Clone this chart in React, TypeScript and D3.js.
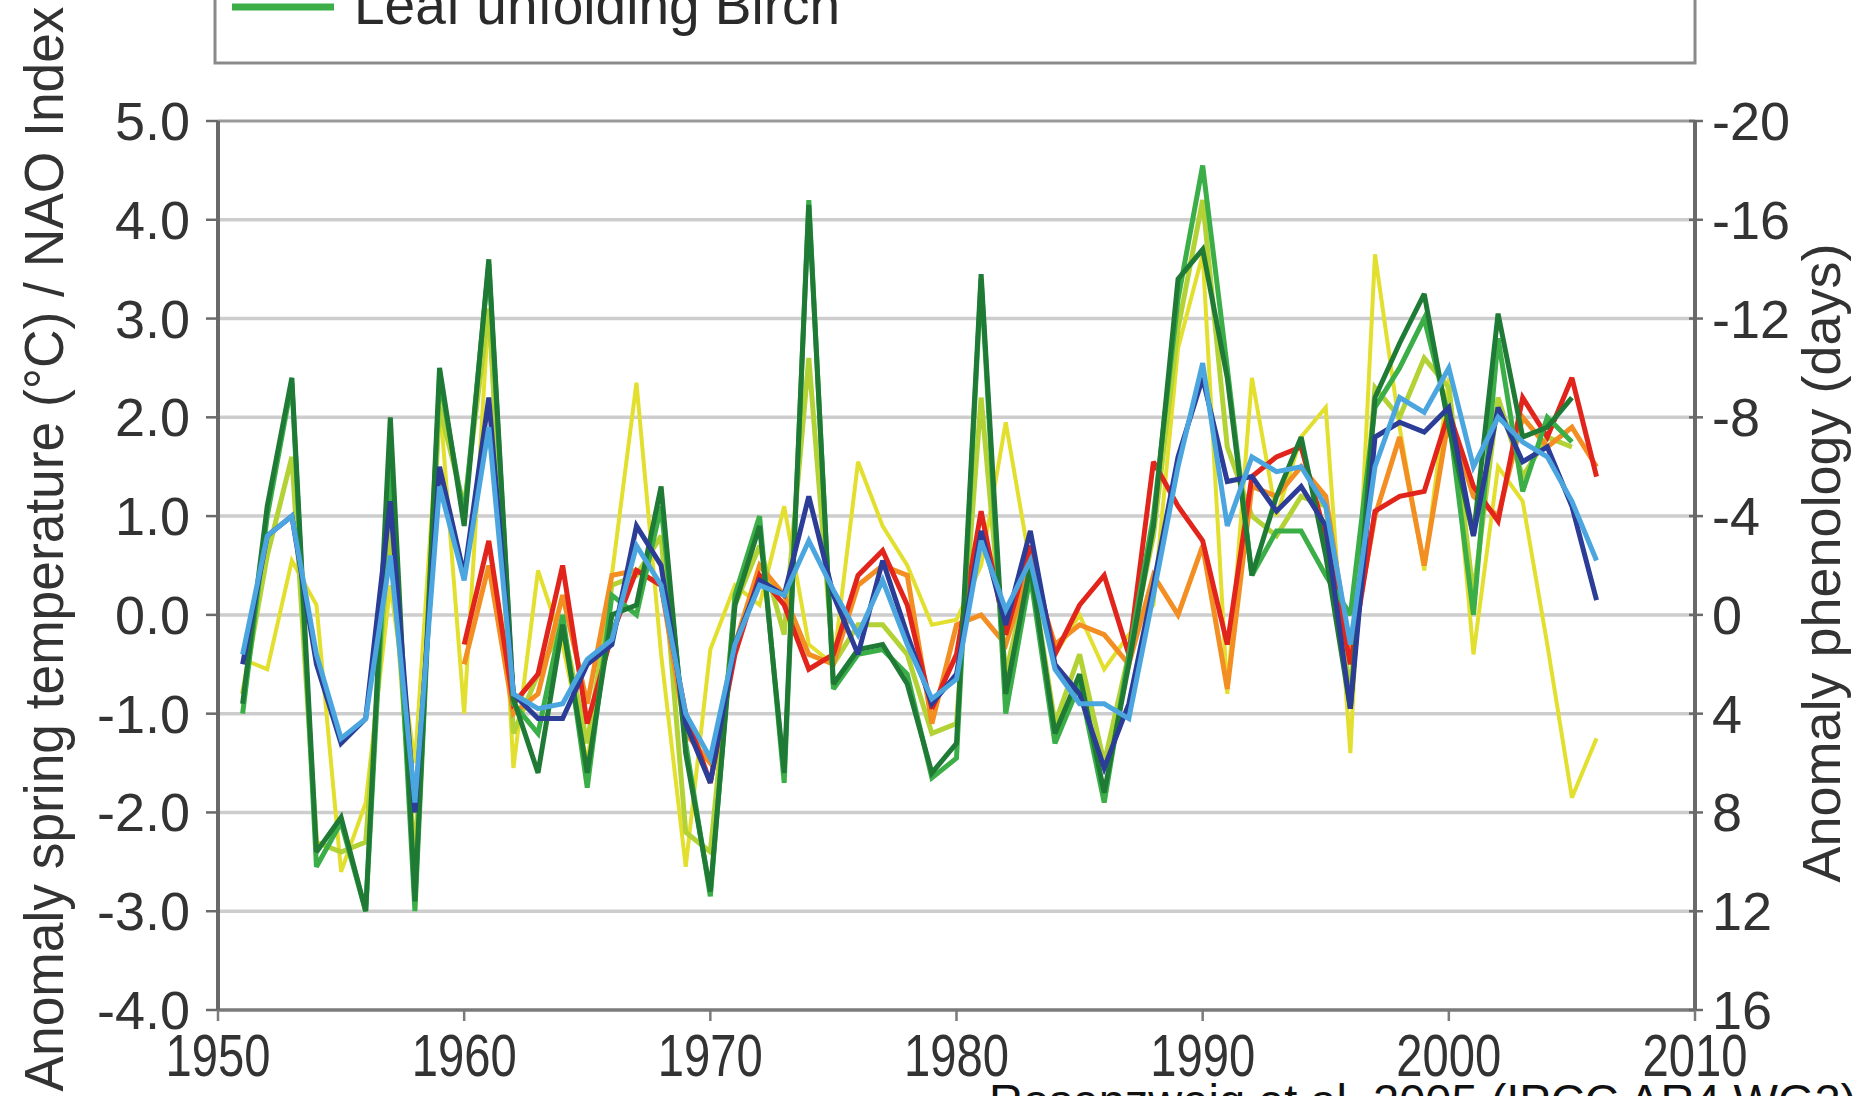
import React from "react";
import * as d3 from "d3";

const years = [
  1951, 1952, 1953, 1954, 1955, 1956, 1957, 1958, 1959, 1960,
  1961, 1962, 1963, 1964, 1965, 1966, 1967, 1968, 1969, 1970,
  1971, 1972, 1973, 1974, 1975, 1976, 1977, 1978, 1979, 1980,
  1981, 1982, 1983, 1984, 1985, 1986, 1987, 1988, 1989, 1990,
  1991, 1992, 1993, 1994, 1995, 1996, 1997, 1998, 1999, 2000,
  2001, 2002, 2003, 2004, 2005, 2006,
];

const yellowSeries = [
  -0.45, -0.55, 0.55, 0.1, -2.6, -1.9, 0.3, -1.5, 2.2, -1.0,
  3.1, -1.55, 0.45, -0.3, -1.5, 0.4, 2.35, -0.4, -2.55, -0.35,
  0.3, 0.1, 1.1, -0.3, -0.5, 1.55, 0.9, 0.5, -0.1, -0.05,
  0.5, 1.95, 0.5, -0.4, 0.0, -0.55, -0.2, 0.1, 2.7, 3.65,
  -0.8, 2.4, 1.0, 1.8, 2.1, -1.4, 3.65, 1.9, 0.45, 2.4,
  -0.4, 1.5, 1.15, -0.3, -1.85, -1.25,
];

const yellowGreenSeries = [
  -0.8, 0.6, 1.6, -2.3, -2.4, -2.3, 0.9, -2.5, 2.1, 1.1,
  3.1, -1.2, -0.6, -0.1, -1.3, 0.3, 0.4, 0.8, -2.2, -2.4,
  0.1, 0.7, -0.2, 2.6, -0.5, -0.1, -0.1, -0.4, -1.2, -1.1,
  2.2, -0.6, 0.5, -1.1, -0.4, -1.5, -0.4, 0.8, 2.9, 4.2,
  1.7, 1.0, 0.8, 1.2, 1.1, -0.8, 2.3, 2.0, 2.6, 2.3,
  0.2, 2.2, 1.4, 1.8, 1.7, null,
];

const orangeSeries = [
  null, null, null, null, null, null, null, null, null, -0.5,
  0.5, -1.0, -0.8, 0.2, -0.9, 0.4, 0.45, 0.3, -1.2, -1.5,
  -0.3, 0.5, 0.2, -0.4, -0.5, 0.3, 0.5, 0.4, -1.1, -0.1,
  0.0, -0.3, 0.5, -0.3, -0.1, -0.2, -0.5, 0.4, 0.0, 0.7,
  -0.75, 1.3, 1.2, 1.5, 1.2, -0.4, 1.0, 1.8, 0.5, 2.0,
  1.2, 1.0, 2.0, 1.7, 1.9, 1.5,
];

const redSeries = [
  null, null, null, null, null, null, null, null, null, -0.3,
  0.75, -0.9, -0.6, 0.5, -1.1, -0.2, 0.45, 0.3, -1.0, -1.7,
  -0.4, 0.4, 0.1, -0.55, -0.4, 0.4, 0.65, 0.1, -0.95, -0.4,
  1.05, -0.2, 0.7, -0.4, 0.1, 0.4, -0.4, 1.55, 1.1, 0.75,
  -0.3, 1.4, 1.6, 1.7, 0.8, -0.5, 1.05, 1.2, 1.25, 2.05,
  1.3, 0.95, 2.2, 1.8, 2.4, 1.4,
];

const greenSeries = [
  -1.0, 1.0, 2.35, -2.55, -2.1, -3.0, 1.6, -3.0, 2.4, 1.0,
  3.55, -0.9, -1.2, 0.0, -1.75, 0.2, 0.0, 1.1, -1.3, -2.85,
  0.2, 1.0, -1.7, 4.2, -0.75, -0.4, -0.35, -0.6, -1.65, -1.45,
  3.4, -1.0, 0.4, -1.3, -0.7, -1.9, -0.4, 1.0, 3.2, 4.55,
  2.5, 0.4, 0.85, 0.85, 0.4, 0.0, 2.1, 2.5, 3.0, 2.0,
  0.0, 2.8, 1.25, 2.0, 1.75, null,
];

const darkGreenSeries = [
  -0.9, 1.1, 2.4, -2.4, -2.05, -3.0, 2.0, -2.9, 2.5, 0.9,
  3.6, -0.85, -1.6, -0.1, -1.6, 0.0, 0.1, 1.3, -1.4, -2.8,
  0.1, 0.9, -1.6, 4.15, -0.7, -0.35, -0.3, -0.7, -1.6, -1.3,
  3.45, -0.8, 0.5, -1.2, -0.6, -1.8, -0.5, 0.9, 3.4, 3.7,
  2.4, 0.4, 1.2, 1.8, 0.6, -0.95, 2.2, 2.75, 3.25, 1.9,
  0.8, 3.05, 1.8, 1.9, 2.2, null,
];

const darkBlueSeries = [
  -0.5, 0.8, 1.0, -0.5, -1.3, -1.05, 1.15, -2.0, 1.5, 0.4,
  2.2, -0.8, -1.05, -1.05, -0.5, -0.3, 0.9, 0.5, -1.1, -1.7,
  -0.3, 0.35, 0.2, 1.2, 0.2, -0.4, 0.55, -0.2, -0.9, -0.6,
  0.85, -0.1, 0.85, -0.5, -0.8, -1.55, -0.9, 0.3, 1.6, 2.4,
  1.35, 1.4, 1.05, 1.3, 0.9, -0.95, 1.8, 1.95, 1.85, 2.1,
  0.8, 2.1, 1.55, 1.7, 1.1, 0.15,
];

const lightBlueSeries = [
  -0.4, 0.8, 1.0, -0.4, -1.25, -1.05, 0.6, -1.9, 1.3, 0.35,
  1.9, -0.8, -0.95, -0.9, -0.45, -0.25, 0.7, 0.3, -1.0, -1.45,
  -0.3, 0.3, 0.2, 0.75, 0.25, -0.2, 0.35, -0.3, -0.85, -0.65,
  0.75, 0.05, 0.55, -0.55, -0.9, -0.9, -1.05, 0.2, 1.5, 2.55,
  0.9, 1.6, 1.45, 1.5, 1.1, -0.3, 1.5, 2.2, 2.05, 2.5,
  1.5, 2.0, 1.75, 1.6, 1.15, 0.55,
];

const leftTicks = [5, 4, 3, 2, 1, 0, -1, -2, -3, -4];
const rightTicks = [-20, -16, -12, -8, -4, 0, 4, 8, 12, 16];
const xTicks = [1950, 1960, 1970, 1980, 1990, 2000, 2010];

const seriesList = [
  { name: "yellow", values: yellowSeries, color: "#e3df2e", width: 4 },
  { name: "yellowGreen", values: yellowGreenSeries, color: "#b3d236", width: 5 },
  { name: "orange", values: orangeSeries, color: "#f28e22", width: 5 },
  { name: "red", values: redSeries, color: "#e1251c", width: 5 },
  { name: "green", values: greenSeries, color: "#3bae48", width: 5 },
  { name: "darkGreen", values: darkGreenSeries, color: "#1f7a36", width: 5 },
  { name: "darkBlue", values: darkBlueSeries, color: "#2b3d96", width: 5 },
  { name: "lightBlue", values: lightBlueSeries, color: "#4ba6e0", width: 5 },
];

const legendLabel = "Leaf unfolding Birch";
const leftTitle = "Anomaly spring temperature (°C) / NAO Index";
const rightTitle = "Anomaly phenology (days)";
const caption = "Rosenzweig et al. 2005 (IPCC AR4 WG2)";

const W = 1865;
const H = 1096;
const FONT = "'Liberation Sans', Arial, Helvetica, sans-serif";

export default function App() {
  const x = d3.scaleLinear().domain([1950, 2010]).range([218, 1695]);
  const y = d3.scaleLinear().domain([-4, 5]).range([1010, 121]);
  const y2 = d3.scaleLinear().domain([16, -20]).range([1010, 121]);
  const fmt = (v: number) => d3.format(".1f")(v).replace("\u2212", "-");

  const line = d3
    .line<number | null>()
    .defined((d) => d !== null)
    .x((_, i) => x(years[i]))
    .y((d) => y(d as number));

  const [x0, x1] = x.range();

  return (
    <svg
      width={W}
      height={H}
      style={{ position: "absolute", left: 0, top: 0, background: "#fff" }}
      fontFamily={FONT}
    >
      <rect x={0} y={0} width={W} height={H} fill="#fff" />

      {/* legend box (partially cut) */}
      <rect x={215} y={-20} width={1480} height={83} fill="#fff" stroke="#8a8a8a" strokeWidth={3} />
      <line x1={232} x2={334} y1={7} y2={7} stroke="#3bae48" strokeWidth={7} />
      <text x={354} y={24} fontSize={55} fill="#2a2a2a">
        {legendLabel}
      </text>

      {/* gridlines */}
      {leftTicks
        .filter((t) => t !== 5 && t !== -4)
        .map((t) => (
          <line key={"g" + t} x1={x0} x2={x1} y1={y(t)} y2={y(t)} stroke="#cdcdcd" strokeWidth={3.5} />
        ))}
      <line x1={x0} x2={x1} y1={y(5)} y2={y(5)} stroke="#9a9a9a" strokeWidth={3} />

      {/* series */}
      {seriesList.map((s) => (
        <path
          key={s.name}
          d={line(s.values) || ""}
          fill="none"
          stroke={s.color}
          strokeWidth={s.width}
          strokeLinejoin="miter"
          strokeMiterlimit={3}
        />
      ))}

      {/* axes */}
      <line x1={x0} x2={x1} y1={y(-4)} y2={y(-4)} stroke="#7a7a7a" strokeWidth={3.5} />
      <line x1={x0} x2={x0} y1={y(5)} y2={y(-4)} stroke="#6a6a6a" strokeWidth={4} />
      <line x1={x1} x2={x1} y1={y(5)} y2={y(-4)} stroke="#6a6a6a" strokeWidth={4} />

      {leftTicks.map((t) => (
        <g key={"l" + t}>
          <line x1={x0 - 12} x2={x0} y1={y(t)} y2={y(t)} stroke="#6a6a6a" strokeWidth={2.5} />
          <text x={190} y={y(t) + 19} fontSize={54} textAnchor="end" fill="#333">
            {fmt(t)}
          </text>
        </g>
      ))}

      {rightTicks.map((t) => (
        <g key={"r" + t}>
          <line x1={x1 - 6} x2={x1 + 8} y1={y2(t)} y2={y2(t)} stroke="#6a6a6a" strokeWidth={2.5} />
          <text x={1712} y={y2(t) + 19} fontSize={54} textAnchor="start" fill="#333">
            {String(t)}
          </text>
        </g>
      ))}

      {xTicks.map((t) => (
        <g key={"x" + t}>
          <line x1={x(t)} x2={x(t)} y1={y(-4)} y2={y(-4) + 11} stroke="#7a7a7a" strokeWidth={2.5} />
          <text
            x={x(t)}
            y={1076}
            fontSize={60}
            textAnchor="middle"
            fill="#333"
            textLength={105}
            lengthAdjust="spacingAndGlyphs"
          >
            {String(t)}
          </text>
        </g>
      ))}

      {/* axis titles */}
      <text
        transform={`translate(63,549) rotate(-90)`}
        fontSize={55}
        textAnchor="middle"
        fill="#333"
        textLength={1085}
        lengthAdjust="spacingAndGlyphs"
      >
        {leftTitle}
      </text>
      <text
        transform={`translate(1840,563) rotate(-90)`}
        fontSize={54}
        textAnchor="middle"
        fill="#333"
        textLength={639}
        lengthAdjust="spacingAndGlyphs"
      >
        {rightTitle}
      </text>

      {/* caption (cut at bottom) */}
      <text x={989} y={1117} fontSize={47} fill="#111">
        {caption}
      </text>
    </svg>
  );
}
